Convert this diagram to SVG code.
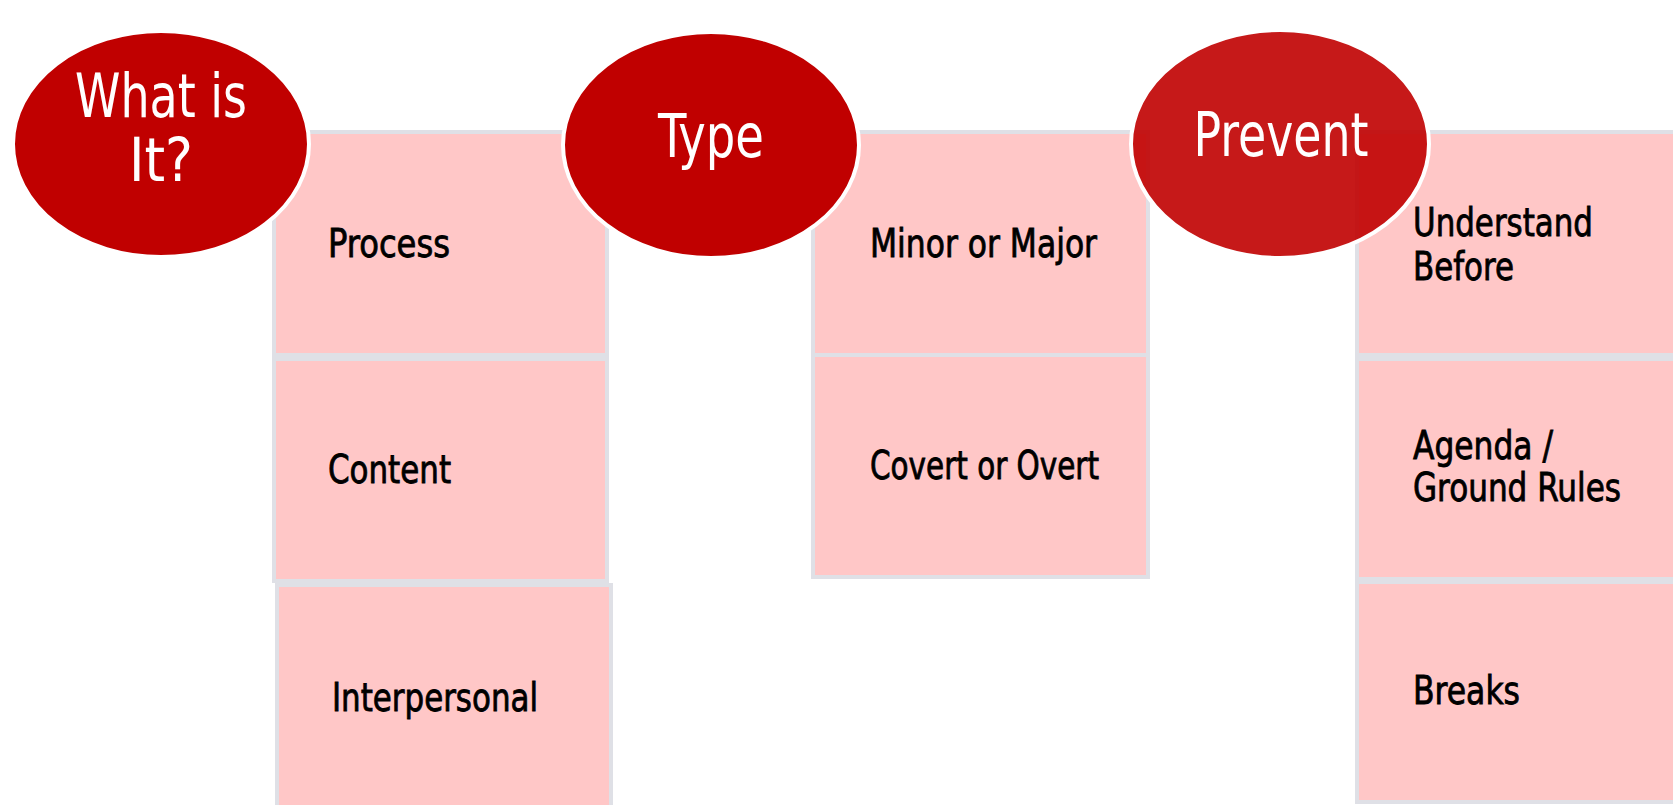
<svg xmlns="http://www.w3.org/2000/svg" width="1673" height="805" viewBox="0 0 1673 805">
<style>
.box{fill:#FFC7C7;stroke:#DFE0E6;stroke-width:4}
.head{fill:#C00000;stroke:#FFFFFF;stroke-width:4}
.ht{font-family:"Liberation Sans Narrow","DejaVu Sans Condensed","Liberation Sans",sans-serif;font-size:61px;fill:#FFFFFF;text-anchor:middle}
.bt{font-family:"Liberation Sans Narrow","DejaVu Sans Condensed","Liberation Sans",sans-serif;font-size:39px;fill:#000000;stroke:#000000;stroke-width:0.8}
</style>
<rect width="1673" height="805" fill="#FFFFFF"/>
<g id="connectors"></g>
<g id="box-process"><rect class="box" x="274" y="132" width="333" height="223"/><text class="bt" x="328" y="257" textLength="122" lengthAdjust="spacingAndGlyphs">Process</text></g>
<g id="box-content"><rect class="box" x="274" y="359" width="333" height="222"/><text class="bt" x="328" y="483" textLength="123" lengthAdjust="spacingAndGlyphs">Content</text></g>
<g id="box-interpersonal"><rect class="box" x="277" y="585" width="334" height="225"/><text class="bt" x="332" y="711" textLength="206" lengthAdjust="spacingAndGlyphs">Interpersonal</text></g>
<g id="box-minor"><rect class="box" x="813" y="132" width="335" height="223"/><text class="bt" x="870" y="257" textLength="227" lengthAdjust="spacingAndGlyphs">Minor or Major</text></g>
<g id="box-covert"><rect class="box" x="813" y="355" width="335" height="222"/><text class="bt" x="870" y="479" textLength="229" lengthAdjust="spacingAndGlyphs">Covert or Overt</text></g>
<g id="box-understand"><rect class="box" x="1357" y="132" width="330" height="223"/><text class="bt" x="1413" y="236" textLength="180" lengthAdjust="spacingAndGlyphs">Understand</text><text class="bt" x="1413" y="280" textLength="101" lengthAdjust="spacingAndGlyphs">Before</text></g>
<g id="box-agenda"><rect class="box" x="1357" y="359" width="330" height="220"/><text class="bt" x="1413" y="459" textLength="140" lengthAdjust="spacingAndGlyphs">Agenda /</text><text class="bt" x="1413" y="501" textLength="208" lengthAdjust="spacingAndGlyphs">Ground Rules</text></g>
<g id="box-breaks"><rect class="box" x="1357" y="582" width="330" height="220"/><text class="bt" x="1413" y="704" textLength="107" lengthAdjust="spacingAndGlyphs">Breaks</text></g>
<g id="head-what"><ellipse class="head" cx="161" cy="144" rx="148" ry="113"/><text class="ht" x="161" y="117" textLength="172" lengthAdjust="spacingAndGlyphs">What is</text><text class="ht" x="161" y="181" textLength="64" lengthAdjust="spacingAndGlyphs">It?</text></g>
<g id="head-type"><ellipse class="head" cx="711" cy="145" rx="148" ry="113"/><text class="ht" x="711" y="157" textLength="106" lengthAdjust="spacingAndGlyphs">Type</text></g>
<g id="head-prevent"><ellipse class="head" cx="1280" cy="144" rx="149" ry="114" fill-opacity="0.9"/><text class="ht" x="1281" y="156" textLength="175" lengthAdjust="spacingAndGlyphs">Prevent</text></g>
</svg>
